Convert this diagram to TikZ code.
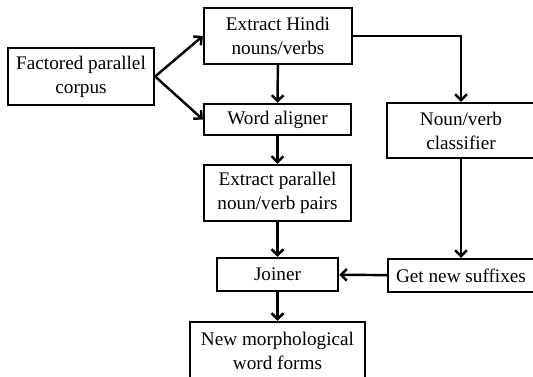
\documentclass[tikz,border=0pt]{standalone}
\usepackage{fontspec}
\setmainfont{Liberation Serif}
\usetikzlibrary{arrows.meta}

\begin{document}
\begin{tikzpicture}[x=0.03cm, y=-0.03cm,
box/.style = {% process boxes
    draw, line width=2pt, inner sep=0pt, align=center,
    font=\fontsize{16.4}{20.5}\selectfont,
             },
arr/.style = {% connectors
    line width=2.1pt, -{Straight Barb[length=5pt,width=10pt,line width=2.1pt]},
             },                        ]

  \clip (0,0) rectangle (533,377);

  \node[box, minimum width=4.38cm, minimum height=1.71cm] (corpus)     at (81,76.5)   {Factored parallel\\ corpus};
  \node[box, minimum width=4.44cm, minimum height=1.68cm] (hindi)      at (278,36)    {Extract Hindi\\ nouns/verbs};
  \node[box, minimum width=4.41cm, minimum height=0.93cm] (aligner)    at (277.5,119.5) {Word aligner};
  \node[box, minimum width=4.41cm, minimum height=1.68cm] (pairs)      at (277.5,193) {Extract parallel\\ noun/verb pairs};
  \node[box, minimum width=3.63cm, minimum height=0.99cm] (joiner)     at (277.5,274.5) {Joiner};
  \node[box, minimum width=5.25cm, minimum height=1.71cm] (newforms)   at (277.5,350.5) {New morphological\\ word forms};
  \node[box, minimum width=4.44cm, minimum height=1.65cm] (classifier) at (461,130.5) {Noun/verb\\ classifier};
  \node[box, minimum width=4.38cm, minimum height=0.99cm] (suffixes)   at (461,275.5) {Get new suffixes};

  \draw[arr] (corpus.east) -- (hindi.west);
  \draw[arr] (corpus.east) -- (aligner.west);
  \draw[arr] (hindi) -- (aligner);
  \draw[arr] (aligner) -- (pairs);
  \draw[arr] (pairs) -- (joiner);
  \draw[arr] (joiner) -- (newforms);
  \draw[arr] (hindi.east) -| (classifier.north);
  \draw[arr] (classifier) -- (suffixes);
  \draw[arr] (suffixes) -- (joiner);

\end{tikzpicture}
\end{document}
